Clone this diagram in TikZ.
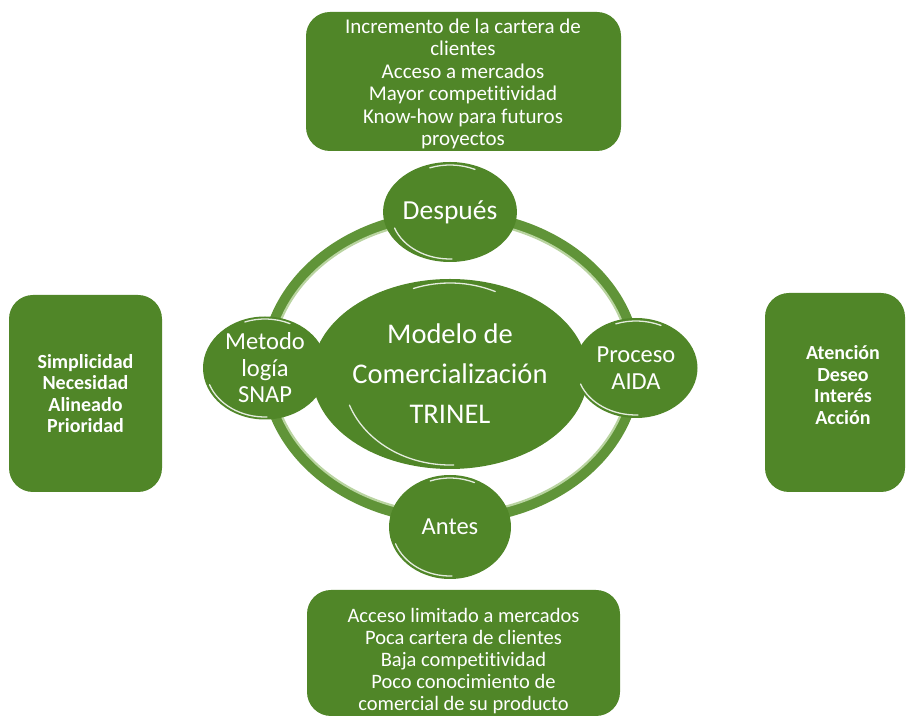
\documentclass[tikz,border=0pt]{standalone}
\usepackage{fontspec}
\setmainfont{Carlito}[Ligatures=CommonOff]
\usetikzlibrary{shapes.geometric}
\definecolor{gfill}{RGB}{80,134,40}
\definecolor{ringc}{RGB}{96,148,56}
\definecolor{ringl}{RGB}{185,212,160}
\tikzset{
  gbox/.style={rectangle, rounded corners=24pt, fill=gfill, text=white, align=center, inner sep=0pt},
  gcirc/.style={ellipse, fill=gfill, text=white, align=center, inner sep=0pt},
  hl/.style={white, line width=1.3pt, line cap=round, opacity=0.85},
  boxfont/.style={font=\fontsize{21}{22.5}\selectfont},
  sidefont/.style={font=\fontsize{20}{21.5}\selectfont\bfseries},
  circfont/.style={font=\fontsize{24.5}{26.5}\selectfont},
  wtext/.style={text=white, align=center, inner sep=0pt},
}
\newcommand\myglint[3]{%
  \begin{scope}[shift={(#1.center)}]
    \draw[hl] (200:#2 and #3) arc[start angle=200, end angle=272, x radius=#2, y radius=#3];
    \draw[hl] (65:#2 and #3) arc[start angle=65, end angle=110, x radius=#2, y radius=#3];
  \end{scope}}
\begin{document}
\begin{tikzpicture}[x=1pt,y=1pt]
\useasboundingbox (0,0) rectangle (906,718);
\fill[white] (0,0) rectangle (906,718);

% ring
\draw[ringc, line width=11pt] (451,351) ellipse [x radius=185, y radius=152];
\draw[ringl, line width=2.2pt] (451,351) ellipse [x radius=179.5, y radius=146.5];

% boxes
\node[gbox, minimum width=315pt, minimum height=139pt] (top) at (463.5,636.5) {};
\node[wtext, boxfont] (toptxt) at (463,634)
  {Incremento de la cartera de\\clientes\\Acceso a mercados\\Mayor competitividad\\Know-how para futuros\\proyectos};
\node[gbox, minimum width=313pt, minimum height=126pt] (bot) at (463.5,65) {};
\node[wtext, boxfont, font=\fontsize{20.5}{22}\selectfont] (bottxt) at (463.5,57)
  {Acceso limitado a mercados\\Poca cartera de clientes\\Baja competitividad\\Poco conocimiento de\\comercial de su producto};
\node[gbox, sidefont, minimum width=153pt, minimum height=197pt] (left) at (85.5,324.5)
  {Simplicidad\\Necesidad\\Alineado\\Prioridad};
\node[gbox, minimum width=140pt, minimum height=199pt] (right) at (835,325.5) {};
\node[wtext, sidefont] (righttxt) at (843,333)
  {Atención\\Deseo\\Interés\\Acción};

% circles
\node[gcirc, minimum width=222pt, minimum height=190pt,
      font=\fontsize{28.5}{40}\selectfont] (center) at (450,344)
  {Modelo de\\Comercialización\\TRINEL};
\node[gcirc, font=\fontsize{27.5}{29}\selectfont, minimum width=124pt, minimum height=100pt] (despues) at (450,506) {Después};
\node[gcirc, circfont, minimum width=122pt, minimum height=104pt] (antes) at (450,191) {Antes};
\node[gcirc, circfont, minimum width=124pt, minimum height=103pt] (snap) at (265,350)
  {Metodo\\logía\\SNAP};
\node[gcirc, circfont, minimum width=123pt, minimum height=100pt] (aida) at (636,350)
  {Proceso\\AIDA};

% glossy highlights
\myglint{center}{107}{91}
\myglint{despues}{59}{47}
\myglint{antes}{58}{49}
\myglint{snap}{59}{49}
\myglint{aida}{59}{47}
\end{tikzpicture}
\end{document}
